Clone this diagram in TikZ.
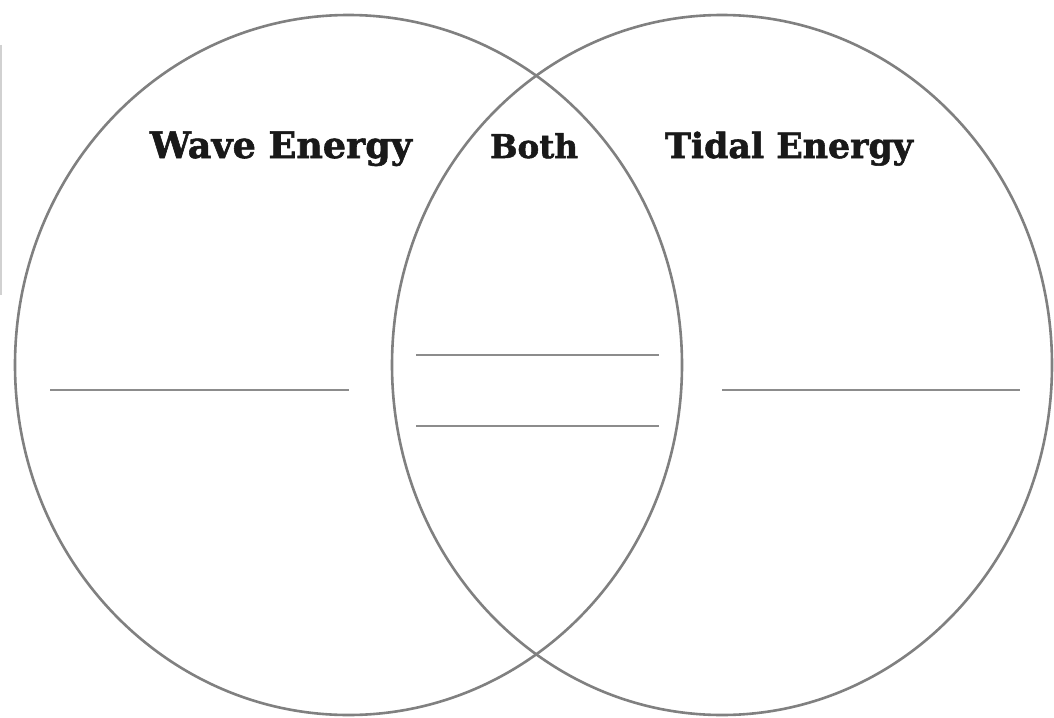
\documentclass[tikz,border=0pt]{standalone}
\usepackage{fontspec}
\newfontfamily\labelfont{DejaVu Serif}[BoldFeatures={FakeBold=1.6}]
\begin{document}
\begin{tikzpicture}[x=1pt,y=-1pt,
  ring/.style={draw=black!50, line width=2.6pt},
  writeline/.style={draw=black!45, line width=2.6pt},
  heading/.style={font=\labelfont\bfseries\fontsize{31}{36}\selectfont, text=black!90, inner sep=0pt, anchor=base}]
\useasboundingbox[fill=white] (0,0) rectangle (1054,717);
% faint edge mark
\draw[black!18, line width=1.5pt] (1,45) -- (1,295);
% circles
\draw[ring] (348.5,365) ellipse [x radius=333.5, y radius=350];
\draw[ring] (722,365) ellipse [x radius=330, y radius=350];
% writing lines
\coordinate (l1a) at (50,390); \coordinate (l1b) at (349,390);
\coordinate (m1a) at (416,355); \coordinate (m1b) at (659,355);
\coordinate (m2a) at (416,426); \coordinate (m2b) at (659,426);
\coordinate (r1a) at (722,390); \coordinate (r1b) at (1020,390);
\draw[writeline] (l1a) -- (l1b);
\draw[writeline] (m1a) -- (m1b);
\draw[writeline] (m2a) -- (m2b);
\draw[writeline] (r1a) -- (r1b);
% headings
\node[heading] (wave) at (281,158) {\resizebox{262pt}{!}{Wave Energy}};
\node[heading] (both) at (534,158) {\resizebox{88pt}{!}{Both}};
\node[heading] (tidal) at (789,158) {\resizebox{248pt}{!}{Tidal Energy}};
\end{tikzpicture}
\end{document}
